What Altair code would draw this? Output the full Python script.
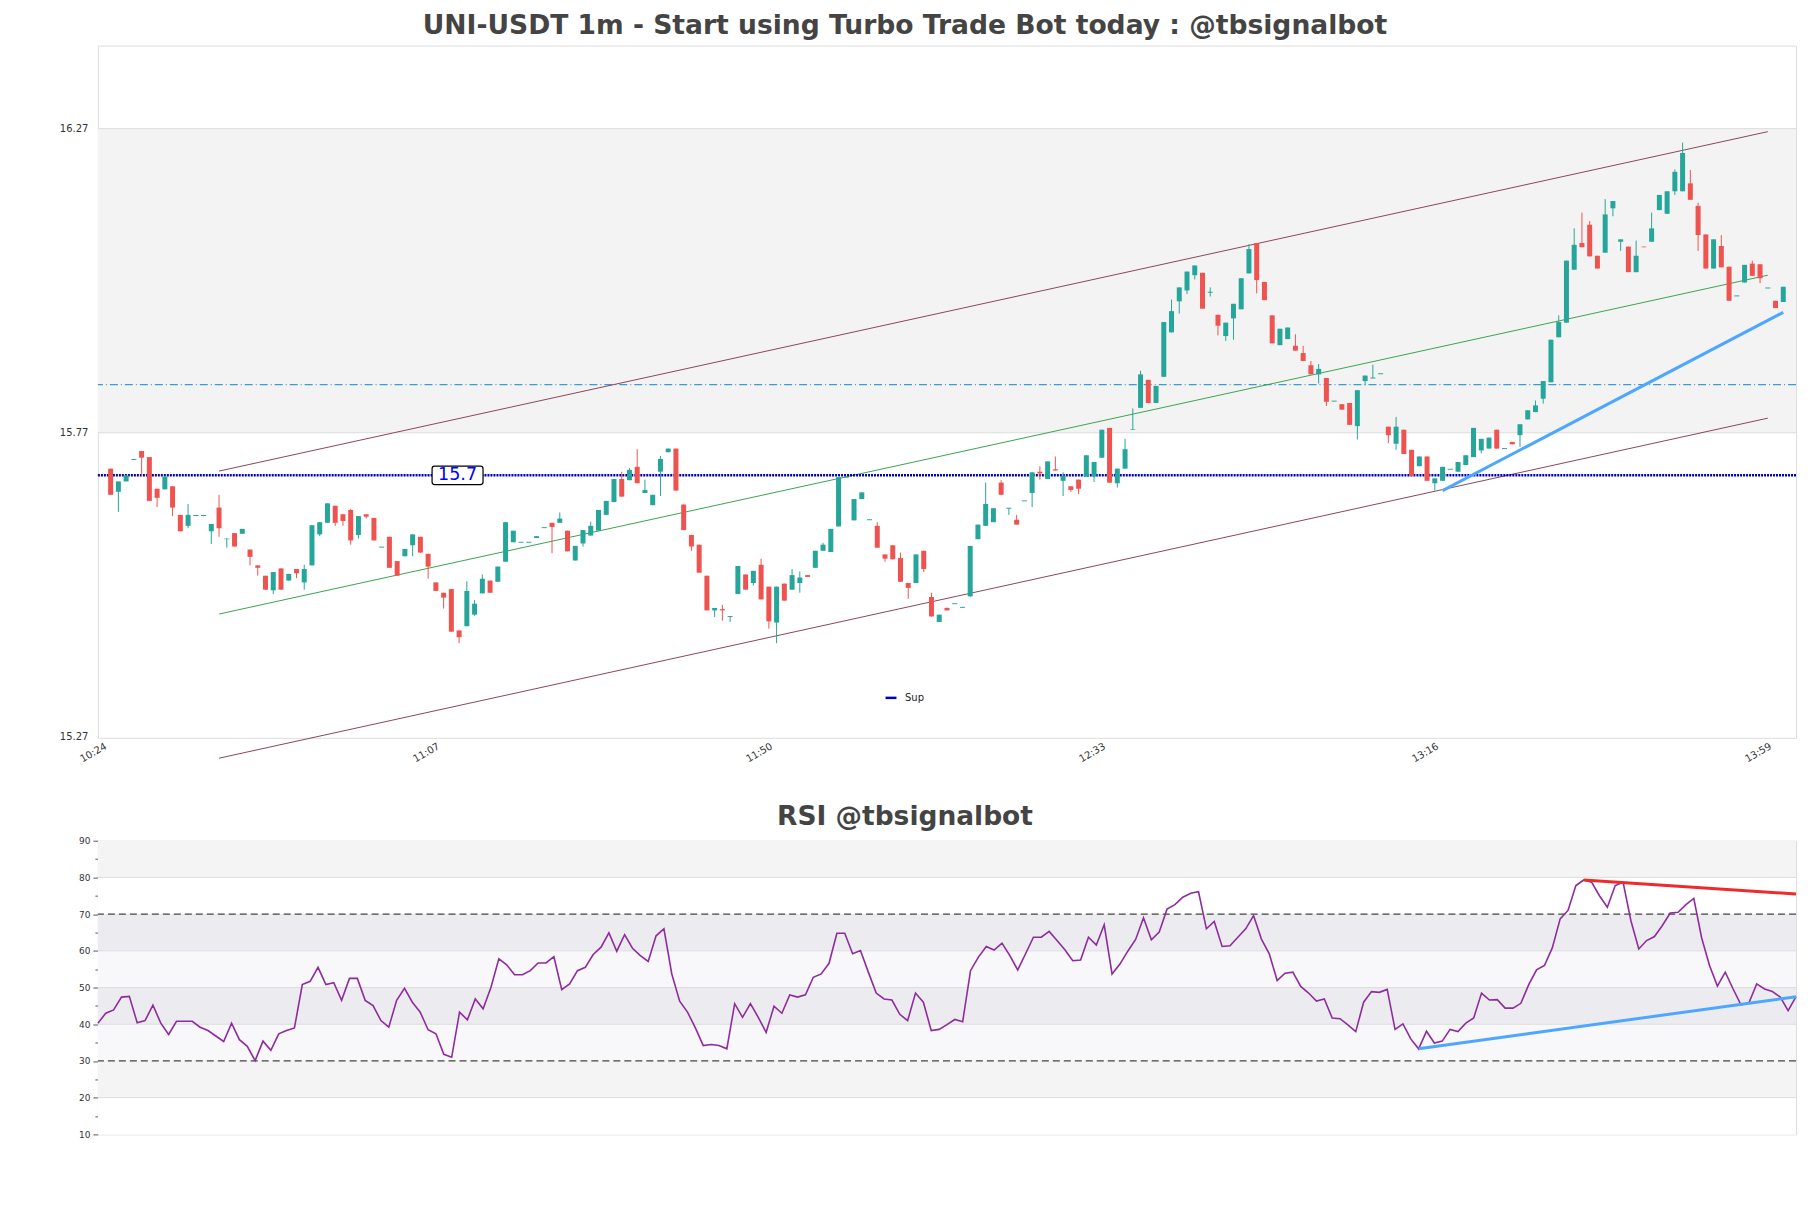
import altair as alt
import pandas as pd

# ---------------- data ----------------
minutes = list(range(1, 218))  # minutes after 10:24

open_ = [
    15.711, 15.673, 15.690, 15.726, 15.740, 15.730, 15.678, 15.677, 15.682, 15.635,
    15.617, 15.634, 15.634, 15.608, 15.647, 15.595, 15.605, 15.604, 15.578, 15.552,
    15.535, 15.511, 15.547, 15.527, 15.546, 15.524, 15.552, 15.603, 15.622, 15.650,
    15.636, 15.643, 15.602, 15.636, 15.630, 15.582, 15.599, 15.559, 15.567, 15.585,
    15.599, 15.571, 15.524, 15.507, 15.513, 15.445, 15.452, 15.471, 15.506, 15.527,
    15.525, 15.558, 15.590, 15.590, 15.590, 15.597, 15.614, 15.622, 15.622, 15.609,
    15.560, 15.588, 15.601, 15.609, 15.635, 15.656, 15.694, 15.692, 15.714, 15.671,
    15.651, 15.706, 15.738, 15.744, 15.652, 15.602, 15.586, 15.535, 15.478, 15.480,
    15.468, 15.505, 15.537, 15.523, 15.553, 15.517, 15.458, 15.522, 15.512, 15.523,
    15.536, 15.548, 15.576, 15.574, 15.616, 15.697, 15.626, 15.661, 15.627, 15.617,
    15.570, 15.585, 15.564, 15.523, 15.523, 15.576, 15.500, 15.459, 15.482, 15.489,
    15.483, 15.501, 15.595, 15.617, 15.623, 15.688, 15.646, 15.627, 15.658, 15.671,
    15.706, 15.694, 15.710, 15.691, 15.682, 15.693, 15.698, 15.698, 15.729, 15.778,
    15.687, 15.711, 15.775, 15.811, 15.857, 15.819, 15.862, 15.935, 15.986, 16.004,
    16.029, 16.033, 16.001, 15.964, 15.929, 15.958, 15.973, 16.032, 16.082, 16.018,
    15.963, 15.914, 15.924, 15.913, 15.901, 15.881, 15.866, 15.860, 15.822, 15.817,
    15.819, 15.781, 15.855, 15.860, 15.867, 15.780, 15.752, 15.775, 15.742, 15.715,
    15.731, 15.687, 15.691, 15.710, 15.706, 15.717, 15.730, 15.741, 15.744, 15.775,
    15.744, 15.755, 15.766, 15.792, 15.804, 15.826, 15.853, 15.927, 15.951, 16.038,
    16.082, 16.112, 16.061, 16.066, 16.139, 16.084, 16.076, 16.034, 16.076, 16.084,
    16.136, 16.130, 16.167, 16.167, 16.180, 16.143, 16.096, 16.040, 16.077, 16.043,
    15.995, 16.017, 16.048, 16.047, 16.008, 15.987, 15.985,
]
high = [
    15.711, 15.690, 15.700, 15.726, 15.740, 15.730, 15.678, 15.698, 15.682, 15.635,
    15.653, 15.634, 15.634, 15.620, 15.668, 15.596, 15.605, 15.612, 15.578, 15.552,
    15.535, 15.541, 15.547, 15.538, 15.546, 15.553, 15.618, 15.623, 15.654, 15.650,
    15.636, 15.645, 15.633, 15.636, 15.630, 15.582, 15.599, 15.559, 15.579, 15.603,
    15.599, 15.571, 15.524, 15.507, 15.513, 15.445, 15.526, 15.495, 15.537, 15.527,
    15.550, 15.623, 15.609, 15.590, 15.590, 15.600, 15.614, 15.622, 15.639, 15.609,
    15.584, 15.610, 15.624, 15.643, 15.658, 15.694, 15.706, 15.712, 15.743, 15.693,
    15.668, 15.732, 15.744, 15.744, 15.652, 15.602, 15.586, 15.535, 15.482, 15.487,
    15.468, 15.551, 15.537, 15.543, 15.563, 15.517, 15.517, 15.522, 15.546, 15.542,
    15.536, 15.576, 15.589, 15.612, 15.697, 15.697, 15.661, 15.672, 15.627, 15.623,
    15.570, 15.585, 15.573, 15.523, 15.570, 15.576, 15.507, 15.471, 15.483, 15.489,
    15.483, 15.584, 15.619, 15.688, 15.646, 15.692, 15.646, 15.635, 15.658, 15.705,
    15.715, 15.723, 15.731, 15.705, 15.682, 15.693, 15.733, 15.722, 15.775, 15.778,
    15.711, 15.760, 15.810, 15.872, 15.857, 15.847, 15.952, 15.989, 16.009, 16.035,
    16.045, 16.033, 16.009, 15.964, 15.951, 15.982, 16.024, 16.080, 16.082, 16.018,
    15.963, 15.941, 15.943, 15.932, 15.913, 15.888, 15.883, 15.860, 15.822, 15.817,
    15.819, 15.840, 15.864, 15.882, 15.867, 15.780, 15.796, 15.775, 15.742, 15.731,
    15.731, 15.695, 15.714, 15.710, 15.722, 15.733, 15.778, 15.760, 15.762, 15.775,
    15.744, 15.755, 15.784, 15.807, 15.823, 15.855, 15.923, 15.963, 16.053, 16.106,
    16.132, 16.118, 16.061, 16.154, 16.151, 16.088, 16.076, 16.086, 16.076, 16.132,
    16.161, 16.167, 16.203, 16.247, 16.202, 16.148, 16.096, 16.088, 16.095, 16.043,
    15.995, 16.046, 16.053, 16.047, 16.008, 15.987, 16.010,
]
low = [
    15.668, 15.640, 15.690, 15.726, 15.699, 15.658, 15.648, 15.677, 15.633, 15.608,
    15.613, 15.634, 15.634, 15.587, 15.599, 15.581, 15.583, 15.604, 15.552, 15.535,
    15.512, 15.505, 15.512, 15.527, 15.531, 15.512, 15.552, 15.600, 15.622, 15.617,
    15.617, 15.586, 15.596, 15.629, 15.593, 15.582, 15.548, 15.535, 15.567, 15.567,
    15.573, 15.530, 15.510, 15.481, 15.443, 15.424, 15.452, 15.469, 15.506, 15.507,
    15.525, 15.558, 15.590, 15.590, 15.590, 15.597, 15.614, 15.572, 15.622, 15.575,
    15.560, 15.583, 15.601, 15.609, 15.635, 15.656, 15.665, 15.692, 15.687, 15.671,
    15.651, 15.666, 15.738, 15.675, 15.610, 15.576, 15.540, 15.478, 15.467, 15.461,
    15.459, 15.505, 15.512, 15.519, 15.496, 15.448, 15.424, 15.494, 15.512, 15.507,
    15.533, 15.548, 15.576, 15.574, 15.616, 15.697, 15.626, 15.661, 15.627, 15.581,
    15.558, 15.562, 15.525, 15.497, 15.523, 15.541, 15.468, 15.459, 15.478, 15.489,
    15.483, 15.501, 15.595, 15.617, 15.623, 15.668, 15.635, 15.619, 15.658, 15.648,
    15.693, 15.694, 15.708, 15.666, 15.673, 15.669, 15.698, 15.689, 15.729, 15.688,
    15.680, 15.711, 15.775, 15.811, 15.819, 15.819, 15.862, 15.935, 15.966, 15.998,
    16.022, 15.974, 15.994, 15.930, 15.921, 15.923, 15.973, 16.032, 15.999, 15.988,
    15.917, 15.914, 15.924, 15.905, 15.888, 15.866, 15.851, 15.814, 15.822, 15.808,
    15.783, 15.759, 15.848, 15.860, 15.867, 15.753, 15.742, 15.735, 15.699, 15.715,
    15.691, 15.675, 15.691, 15.710, 15.706, 15.717, 15.730, 15.736, 15.744, 15.744,
    15.744, 15.751, 15.747, 15.792, 15.804, 15.818, 15.853, 15.927, 15.951, 16.038,
    16.075, 16.060, 16.040, 16.066, 16.126, 16.069, 16.034, 16.034, 16.075, 16.084,
    16.136, 16.130, 16.161, 16.167, 16.153, 16.069, 16.040, 16.040, 16.042, 15.987,
    15.995, 16.017, 16.028, 16.016, 16.008, 15.975, 15.985,
]
close = [
    15.668, 15.690, 15.700, 15.726, 15.729, 15.658, 15.663, 15.698, 15.647, 15.608,
    15.635, 15.634, 15.634, 15.620, 15.613, 15.596, 15.583, 15.612, 15.566, 15.548,
    15.512, 15.541, 15.512, 15.538, 15.539, 15.546, 15.618, 15.623, 15.654, 15.622,
    15.625, 15.593, 15.633, 15.632, 15.593, 15.582, 15.548, 15.535, 15.579, 15.603,
    15.573, 15.550, 15.510, 15.499, 15.443, 15.434, 15.510, 15.489, 15.530, 15.507,
    15.550, 15.623, 15.609, 15.590, 15.590, 15.600, 15.614, 15.615, 15.629, 15.575,
    15.584, 15.610, 15.617, 15.643, 15.658, 15.694, 15.665, 15.709, 15.687, 15.676,
    15.668, 15.727, 15.744, 15.675, 15.610, 15.583, 15.540, 15.478, 15.482, 15.478,
    15.468, 15.551, 15.512, 15.543, 15.496, 15.460, 15.517, 15.494, 15.536, 15.532,
    15.533, 15.576, 15.586, 15.612, 15.697, 15.697, 15.661, 15.672, 15.627, 15.581,
    15.563, 15.562, 15.525, 15.515, 15.570, 15.546, 15.468, 15.471, 15.478, 15.489,
    15.483, 15.584, 15.619, 15.653, 15.646, 15.668, 15.646, 15.619, 15.658, 15.705,
    15.703, 15.723, 15.708, 15.699, 15.676, 15.678, 15.733, 15.722, 15.775, 15.688,
    15.711, 15.743, 15.776, 15.866, 15.819, 15.847, 15.952, 15.970, 16.009, 16.035,
    16.045, 15.974, 16.001, 15.946, 15.951, 15.982, 16.024, 16.072, 16.021, 15.988,
    15.917, 15.941, 15.943, 15.905, 15.888, 15.866, 15.875, 15.821, 15.822, 15.808,
    15.783, 15.840, 15.864, 15.860, 15.867, 15.766, 15.780, 15.735, 15.699, 15.731,
    15.691, 15.695, 15.714, 15.710, 15.722, 15.733, 15.778, 15.760, 15.762, 15.744,
    15.744, 15.751, 15.784, 15.807, 15.815, 15.855, 15.923, 15.952, 16.053, 16.079,
    16.075, 16.060, 16.040, 16.129, 16.151, 16.088, 16.034, 16.061, 16.075, 16.106,
    16.161, 16.167, 16.199, 16.230, 16.153, 16.095, 16.040, 16.088, 16.042, 15.987,
    15.995, 16.046, 16.028, 16.024, 16.008, 15.975, 16.010,
]

rsi_values = [
    40.3, 43.0, 43.9, 47.4, 47.6, 40.4, 41.0, 45.2, 40.3, 37.2,
    40.8, 40.8, 40.8, 39.2, 38.3, 36.8, 35.3, 40.3, 35.8, 34.0,
    30.1, 35.4, 32.9, 37.4, 38.3, 39.0, 50.8, 51.7, 55.5, 50.8,
    51.3, 46.5, 52.5, 52.5, 46.5, 45.1, 41.0, 39.2, 46.5, 49.8,
    46.0, 43.3, 38.5, 37.4, 31.8, 31.0, 43.3, 41.2, 46.9, 44.2,
    50.1, 57.8, 56.2, 53.5, 53.5, 54.6, 56.7, 56.7, 58.4, 49.4,
    51.0, 54.6, 55.5, 59.0, 61.0, 64.9, 59.9, 64.4, 60.7, 58.7,
    57.1, 64.1, 66.0, 53.7, 46.3, 43.3, 39.0, 34.2, 34.5, 34.2,
    33.3, 45.6, 41.9, 45.6, 41.9, 37.8, 44.9, 43.0, 48.0, 47.4,
    48.0, 52.8, 53.7, 56.6, 64.8, 64.8, 59.2, 60.1, 54.2, 48.5,
    46.9, 46.6, 42.7, 41.0, 48.5, 46.0, 38.3, 38.6, 39.9, 41.3,
    40.7, 54.6, 58.3, 61.2, 60.2, 62.1, 58.7, 54.8, 59.2, 63.7,
    63.7, 65.3, 62.8, 60.3, 57.3, 57.5, 63.7, 61.6, 67.1, 53.7,
    56.4, 59.9, 63.1, 69.0, 63.0, 65.1, 71.4, 72.6, 74.6, 75.7,
    76.1, 66.0, 68.0, 61.2, 61.4, 63.7, 66.0, 69.6, 63.2, 59.2,
    51.9, 53.9, 54.2, 50.3, 48.5, 46.3, 46.9, 41.7, 41.5, 39.8,
    38.0, 46.0, 48.9, 48.7, 49.5, 38.6, 40.1, 36.0, 33.3, 38.1,
    34.9, 35.4, 38.6, 38.0, 40.3, 41.7, 48.5, 46.6, 46.7, 44.4,
    44.4, 45.7, 50.8, 54.8, 56.0, 60.8, 68.7, 71.0, 77.8, 79.3,
    78.7, 75.0, 71.9, 77.8, 78.7, 68.2, 60.5, 62.8, 63.9, 66.9,
    70.3, 70.5, 72.6, 74.3, 63.5, 56.0, 50.4, 54.2, 49.6, 45.3,
    45.8, 51.0, 49.6, 48.9, 47.4, 43.7, 47.5,
]
rsi_index = list(range(len(rsi_values)))

tick_minutes = [0, 43, 86, 129, 172, 215]
tick_labels = ["10:24", "11:07", "11:50", "12:33", "13:16", "13:59"]
price_ticks = [15.27, 15.77, 16.27]

sup_level = 15.7
sup_label_text = "15.7"
sup_label_x = 45.8
dashdot_level = 15.849
zone_lo, zone_hi = 15.77, 16.27

channel_x = [15, 215]
channel_upper = [15.707, 16.265]
channel_mid = [15.472, 16.029]
channel_lower = [15.235, 15.794]
trend_x = [173, 217]
trend_y = [15.675, 15.968]

rsi_band_lo = [80, 70, 60, 50, 40, 30, 20, 10]
rsi_band_hi = [90, 80, 70, 60, 50, 40, 30, 20]
rsi_band_fill = ["#f4f4f4", "#ffffff", "#ececf0", "#f8f7fa", "#ececf0", "#f8f7fa", "#f4f4f4", "#ffffff"]
rsi_edges = [80, 60, 50, 40, 20]
rsi_levels = [70, 30]
rsi_blue_x = [168, 216]
rsi_blue_y = [33.3, 47.5]
rsi_red_x = [189, 216]
rsi_red_y = [79.3, 75.5]

# ---------------- styles ----------------
GREEN = "#26a69a"
RED = "#ef5350"
FONT = "DejaVu Sans"
W, H1, H2 = 1700, 693, 294

xscale = alt.Scale(domain=[0, 218], nice=False, zero=False)
yscale = alt.Scale(domain=[15.2685, 16.4065], nice=False, zero=False)

label_expr = f"{tick_labels}[indexof({tick_minutes}, datum.value)]"
xaxis = alt.Axis(values=tick_minutes, labelExpr=label_expr, labelAngle=-30, labelAlign="right",
                 labelBaseline="top", ticks=False, domain=False, grid=False, labelFontSize=10,
                 labelColor="#333333", labelPadding=3, labelFont=FONT, labelFlush=False,
                 labelOverlap=False, title=None)
yaxis = alt.Axis(values=price_ticks, format=".2f", ticks=False, domain=False, grid=False,
                 labelFontSize=10, labelColor="#333333", labelPadding=10, labelFont=FONT,
                 labelFlush=False, title=None)

candles = pd.DataFrame({"m": minutes, "open": open_, "high": high, "low": low, "close": close})
X = alt.X("m:Q", scale=xscale, axis=xaxis, title=None)

base = alt.Chart(candles).transform_calculate(
    bt="max(datum.open, datum.close) + (datum.open == datum.close ? 0.0008 : 0)",
    bb="min(datum.open, datum.close) - (datum.open == datum.close ? 0.0008 : 0)",
)
color_cond = alt.condition("datum.close >= datum.open", alt.value(GREEN), alt.value(RED))

wicks = base.mark_rule(strokeWidth=1).encode(
    x=X, y=alt.Y("low:Q", scale=yscale, axis=yaxis, title=None), y2="high:Q", color=color_cond)
bodies = base.mark_bar(size=5).encode(
    x=X, y=alt.Y("bb:Q", scale=yscale, axis=yaxis, title=None), y2="bt:Q", color=color_cond)

zone_df = pd.DataFrame({"lo": [zone_lo], "hi": [zone_hi]})
zone = alt.Chart(zone_df).mark_rect(color="#f3f3f3").encode(
    y=alt.Y("lo:Q", scale=yscale, axis=yaxis, title=None), y2="hi:Q")
zone_edges = alt.Chart(pd.DataFrame({"lvl": [zone_lo, zone_hi]})).mark_rule(
    color="#dcdcdc", strokeWidth=1).encode(y=alt.Y("lvl:Q", scale=yscale, axis=yaxis, title=None))

dashdot = alt.Chart(pd.DataFrame({"lvl": [dashdot_level]})).mark_rule(
    color="#3a9bd5", strokeWidth=1.2, strokeDash=[8, 3, 1, 3]).encode(
    y=alt.Y("lvl:Q", scale=yscale, axis=yaxis, title=None))

sup = alt.Chart(pd.DataFrame({"lvl": [sup_level], "name": ["Sup"]})).mark_rule(
    strokeWidth=2.5, strokeDash=[2, 1]).encode(
    y=alt.Y("lvl:Q", scale=yscale, axis=yaxis, title=None),
    color=alt.Color("name:N", scale=alt.Scale(domain=["Sup"], range=["#0000b4"]),
                    legend=alt.Legend(orient="none", legendX=787, legendY=646, title=None,
                                      symbolType="stroke", symbolStrokeWidth=2.5, symbolSize=120,
                                      labelFontSize=10, labelFont=FONT, labelColor="#222222",
                                      padding=0, labelOffset=7)))

def seg(xs, ys):
    return pd.DataFrame({"x": xs, "y": ys})

def line_layer(xs, ys, color, width):
    return alt.Chart(seg(xs, ys)).mark_line(color=color, strokeWidth=width).encode(
        x=alt.X("x:Q", scale=xscale, axis=xaxis, title=None),
        y=alt.Y("y:Q", scale=yscale, axis=yaxis, title=None))

upper = line_layer(channel_x, channel_upper, "#8c4656", 1)
mid = line_layer(channel_x, channel_mid, "#3ca34f", 1)
lower = line_layer(channel_x, channel_lower, "#8c4656", 1)
trend = line_layer(trend_x, trend_y, "#4da6ff", 3)

box_path = ("M -0.9,-0.363 L 0.9,-0.363 Q 1,-0.363 1,-0.263 L 1,0.263 Q 1,0.363 0.9,0.363 "
            "L -0.9,0.363 Q -1,0.363 -1,0.263 L -1,-0.263 Q -1,-0.363 -0.9,-0.363 Z")
lab_df = pd.DataFrame({"x": [sup_label_x], "y": [sup_level], "t": [sup_label_text]})
lab_box = alt.Chart(lab_df).mark_point(shape=box_path, size=2601, filled=True, fill="white",
                                       stroke="black", strokeWidth=1.2, opacity=1).encode(
    x=alt.X("x:Q", scale=xscale, axis=xaxis, title=None),
    y=alt.Y("y:Q", scale=yscale, axis=yaxis, title=None))
lab_text = alt.Chart(lab_df).mark_text(fontSize=17.5, color="#0000ff", font=FONT,
                                       align="center", baseline="middle").encode(
    x=alt.X("x:Q", scale=xscale, axis=xaxis, title=None),
    y=alt.Y("y:Q", scale=yscale, axis=yaxis, title=None), text="t:N")

main_title = alt.TitleParams("UNI-USDT 1m - Start using Turbo Trade Bot today : @tbsignalbot",
                             fontSize=26.6, font=FONT, fontWeight="bold", color="#444444",
                             anchor="middle", frame="group", dx=-42, offset=6)
main = alt.layer(zone, zone_edges, dashdot, upper, mid, lower, sup, trend, wicks, bodies,
                 lab_box, lab_text).properties(width=W, height=H1, title=main_title)

# ---------------- RSI ----------------
rx = alt.Scale(domain=[0, 216], nice=False, zero=False)
ry = alt.Scale(domain=[10, 90], nice=False, zero=False)
raxis = alt.Axis(values=list(range(10, 95, 5)),
                 labelExpr="datum.value % 10 == 0 ? datum.label : ''",
                 tickSize={"condition": {"test": "datum.value % 10 == 0", "value": 5}, "value": 3},
                 tickColor="#555555", domain=False, grid=False, labelFontSize=9,
                 labelColor="#333333", labelPadding=3, labelFont=FONT, labelFlush=False, title=None)
RY = lambda f: alt.Y(f, scale=ry, axis=raxis, title=None)

bands = alt.Chart(pd.DataFrame({"lo": rsi_band_lo, "hi": rsi_band_hi, "f": rsi_band_fill})).mark_rect().encode(
    y=RY("lo:Q"), y2="hi:Q", fill=alt.Fill("f:N", scale=None))
edges = alt.Chart(pd.DataFrame({"lvl": rsi_edges})).mark_rule(color="#dddddd", strokeWidth=1).encode(
    y=RY("lvl:Q"))
levels = alt.Chart(pd.DataFrame({"lvl": rsi_levels})).mark_rule(
    color="#444444", strokeWidth=1.2, strokeDash=[7, 4]).encode(y=RY("lvl:Q"))
rsi_line = alt.Chart(pd.DataFrame({"i": rsi_index, "v": rsi_values})).mark_line(
    color="#8e2c9e", strokeWidth=1.6).encode(
    x=alt.X("i:Q", scale=rx, axis=None), y=RY("v:Q"))

def rline(xs, ys, color):
    return alt.Chart(pd.DataFrame({"i": xs, "v": ys})).mark_line(color=color, strokeWidth=3).encode(
        x=alt.X("i:Q", scale=rx, axis=None), y=RY("v:Q"))

rsi_blue = rline(rsi_blue_x, rsi_blue_y, "#4da6ff")
rsi_red = rline(rsi_red_x, rsi_red_y, "#ee2a2a")

rsi_title = alt.TitleParams("RSI @tbsignalbot", fontSize=26.5, font=FONT, fontWeight="bold",
                            color="#444444", anchor="middle", frame="group", dx=-42, offset=6)
rsi = alt.layer(bands, edges, levels, rsi_line, rsi_blue, rsi_red).properties(
    width=W, height=H2, title=rsi_title)

chart = alt.vconcat(main, rsi, spacing=103, bounds="flush").properties(
    padding={"left": 50, "top": 3, "right": 0, "bottom": 4}
).configure_view(stroke="#d9d9d9", strokeWidth=1).configure(background="white")

chart.save("out.html", embed_options={"renderer": "svg", "actions": False})
